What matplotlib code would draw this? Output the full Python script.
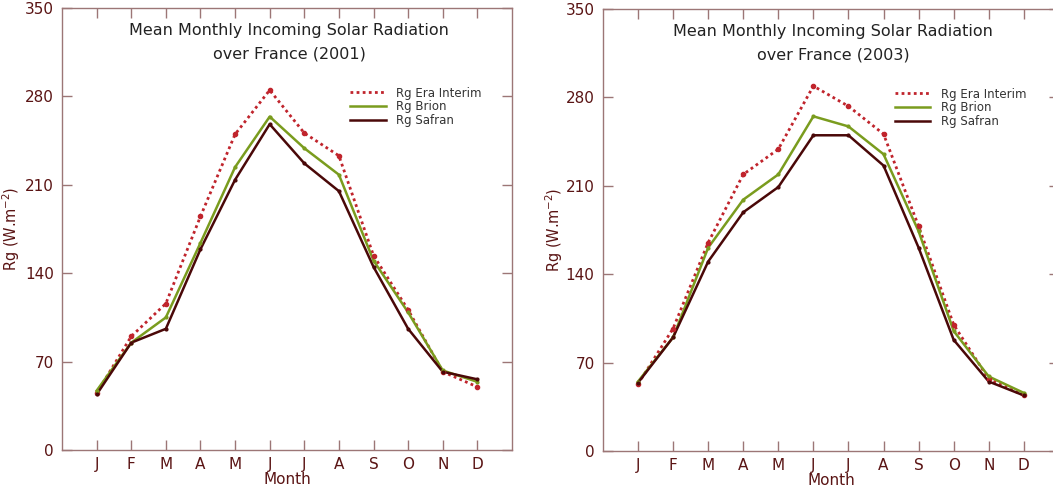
import matplotlib
matplotlib.use('Agg')
import matplotlib.pyplot as plt

months = ['J', 'F', 'M', 'A', 'M', 'J', 'J', 'A', 'S', 'O', 'N', 'D']
yticks = [0, 70, 140, 210, 280, 350]

# 2001
era_2001 = [45, 90, 116, 185, 250, 285, 251, 233, 154, 111, 62, 50]
brion_2001 = [47, 85, 105, 164, 224, 264, 239, 218, 150, 109, 63, 54]
safran_2001 = [44, 85, 96, 159, 214, 258, 227, 205, 145, 96, 62, 56]

# 2003
era_2003 = [53, 97, 165, 219, 239, 289, 273, 251, 178, 100, 57, 44]
brion_2003 = [55, 90, 161, 199, 219, 265, 257, 235, 174, 95, 59, 46]
safran_2003 = [54, 90, 150, 189, 209, 250, 250, 226, 161, 88, 55, 44]

axis_col = '#9c7676'
text_col = '#5a1414'
era_col = '#c0242c'
brion_col = '#7a9c1e'
safran_col = '#4a0808'

fig = plt.figure(figsize=(10.53, 4.86), dpi=100)
ax1 = fig.add_axes([0.0589, 0.074, 0.4273, 0.9095])
ax2 = fig.add_axes([0.5726, 0.072, 0.4330, 0.9095])


def draw(ax, era, brion, safran, year, ylab_x):
    x = list(range(1, 13))
    ax.plot(x, era, color=era_col, ls=(0, (1, 1.2)), lw=2,
            label='Rg Era Interim')
    ax.plot(x, brion, color=brion_col, lw=1.8, label='Rg Brion')
    ax.plot(x, safran, color=safran_col, lw=1.8, label='Rg Safran')
    # small dots at each month
    ax.plot(x, era, ls='none', marker='o', ms=3, color=era_col)
    ax.plot(x, brion, ls='none', marker='o', ms=2, color=brion_col)
    ax.plot(x, safran, ls='none', marker='o', ms=2, color=safran_col)
    ax.set_xlim(0, 13)
    ax.set_ylim(0, 350)
    ax.set_xticks(x)
    ax.set_xticklabels(months)
    ax.set_yticks(yticks)
    for s in ax.spines.values():
        s.set_color(axis_col)
        s.set_linewidth(1)
    ax.tick_params(direction='in', length=7, color=axis_col, width=1,
                   labelcolor=text_col, labelsize=11, top=True, right=True,
                   pad=6)
    ax.tick_params(axis='x', pad=5)
    ax.set_xlabel('Month', color=text_col, fontsize=11)
    ax.xaxis.set_label_coords(0.5, -0.05)
    ax.set_ylabel('Rg (W.m$^{-2}$)', color=text_col, fontsize=10.5)
    ax.yaxis.set_label_coords(ylab_x, 0.5)
    ax.text(0.505, 0.95, 'Mean Monthly Incoming Solar Radiation',
            transform=ax.transAxes, ha='center', va='center',
            fontsize=11.5, color='#222222')
    ax.text(0.505, 0.895, 'over France (%d)' % year,
            transform=ax.transAxes, ha='center', va='center',
            fontsize=11.5, color='#222222')
    leg = ax.legend(loc='upper left', bbox_to_anchor=(0.63, 0.833),
                    frameon=False, fontsize=8.5, handlelength=3.0,
                    labelspacing=0.05, borderaxespad=0, handletextpad=0.9)
    for t in leg.get_texts():
        t.set_color('#333333')


draw(ax1, era_2001, brion_2001, safran_2001, 2001, -0.088)
draw(ax2, era_2003, brion_2003, safran_2003, 2003, -0.083)

fig.savefig('out.png', dpi=100)
